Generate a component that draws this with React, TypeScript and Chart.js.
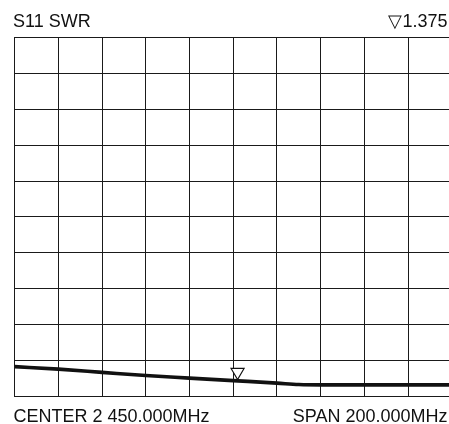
import React, { useEffect, useRef } from "react";
import { Chart, registerables } from "chart.js";

Chart.register(...registerables);

const FREQS_MHZ = [2350, 2370, 2390, 2410, 2430, 2450, 2470, 2480, 2490, 2510, 2530, 2550];
const SWR = [1.82, 1.75, 1.66, 1.57, 1.5, 1.43, 1.36, 1.32, 1.31, 1.31, 1.31, 1.31];
const X_MIN = 2350;
const X_MAX = 2550;
const X_STEP = 20;
const Y_MIN = 1;
const Y_MAX = 11;
const Y_STEP = 1;
const MARKER_FREQ = 2452;
const MARKER_SWR = 1.42;
const TITLE = "S11 SWR";
const MARKER_LABEL = "\u25BD1.375";
const CENTER_LABEL = "CENTER 2 450.000MHz";
const SPAN_LABEL = "SPAN 200.000MHz";

const FONT = '18px "Liberation Sans", Arial, Helvetica, sans-serif';

const textPlugin = {
  id: "analyzerText",
  afterDraw(chart: any) {
    const ctx = chart.ctx;
    const xs = chart.scales.x;
    const ys = chart.scales.y;
    ctx.save();
    ctx.fillStyle = "#111";
    ctx.font = FONT;
    ctx.textBaseline = "alphabetic";
    ctx.textAlign = "left";
    ctx.fillText(TITLE, 13, 27);
    ctx.fillText(CENTER_LABEL, 13.5, 421.5);
    ctx.textAlign = "right";
    ctx.fillText(MARKER_LABEL, 447.5, 27);
    ctx.fillText(SPAN_LABEL, 447.5, 421.5);

    // marker triangle, tip on the trace
    const mx = xs.getPixelForValue(MARKER_FREQ);
    const my = ys.getPixelForValue(MARKER_SWR) - 1.5;
    const w = 13;
    const h = 11;
    ctx.beginPath();
    ctx.moveTo(mx, my);
    ctx.lineTo(mx - w / 2, my - h);
    ctx.lineTo(mx + w / 2, my - h);
    ctx.closePath();
    ctx.fillStyle = "#fff";
    ctx.fill();
    ctx.strokeStyle = "#111";
    ctx.lineWidth = 1.2;
    ctx.stroke();
    ctx.restore();
  },
};

export default function App() {
  const ref = useRef<HTMLCanvasElement | null>(null);

  useEffect(() => {
    if (!ref.current) return;
    const chart = new Chart(ref.current, {
      type: "line",
      data: {
        datasets: [
          {
            data: FREQS_MHZ.map((f, i) => ({ x: f, y: SWR[i] })),
            borderColor: "#111",
            borderWidth: 3.6,
            pointRadius: 0,
            cubicInterpolationMode: "monotone",
            fill: false,
          },
        ],
      },
      options: {
        responsive: false,
        animation: false,
        devicePixelRatio: 1,
        layout: { padding: { left: 14.7, top: 37.7, right: 18.3, bottom: 28 } },
        plugins: { legend: { display: false }, tooltip: { enabled: false } },
        scales: {
          x: {
            type: "linear",
            min: X_MIN,
            max: X_MAX,
            ticks: { stepSize: X_STEP, display: false },
            grid: { color: "#1a1a1a", lineWidth: 1, drawTicks: false },
            border: { display: true, color: "#1a1a1a", width: 1 },
            afterFit: (s: any) => {
              s.height = 0;
            },
          },
          y: {
            type: "linear",
            min: Y_MIN,
            max: Y_MAX,
            ticks: { stepSize: Y_STEP, display: false },
            grid: { color: "#1a1a1a", lineWidth: 1, drawTicks: false },
            border: { display: true, color: "#1a1a1a", width: 1 },
            afterFit: (s: any) => {
              s.width = 0;
            },
          },
        },
      },
      plugins: [textPlugin],
    });
    return () => chart.destroy();
  }, []);

  return (
    <div
      style={{
        position: "fixed",
        left: 0,
        top: 0,
        width: 449,
        height: 424,
        overflow: "hidden",
        background: "#fff",
      }}
    >
      <canvas ref={ref} width={470} height={424} style={{ width: 470, height: 424, display: "block" }} />
    </div>
  );
}
